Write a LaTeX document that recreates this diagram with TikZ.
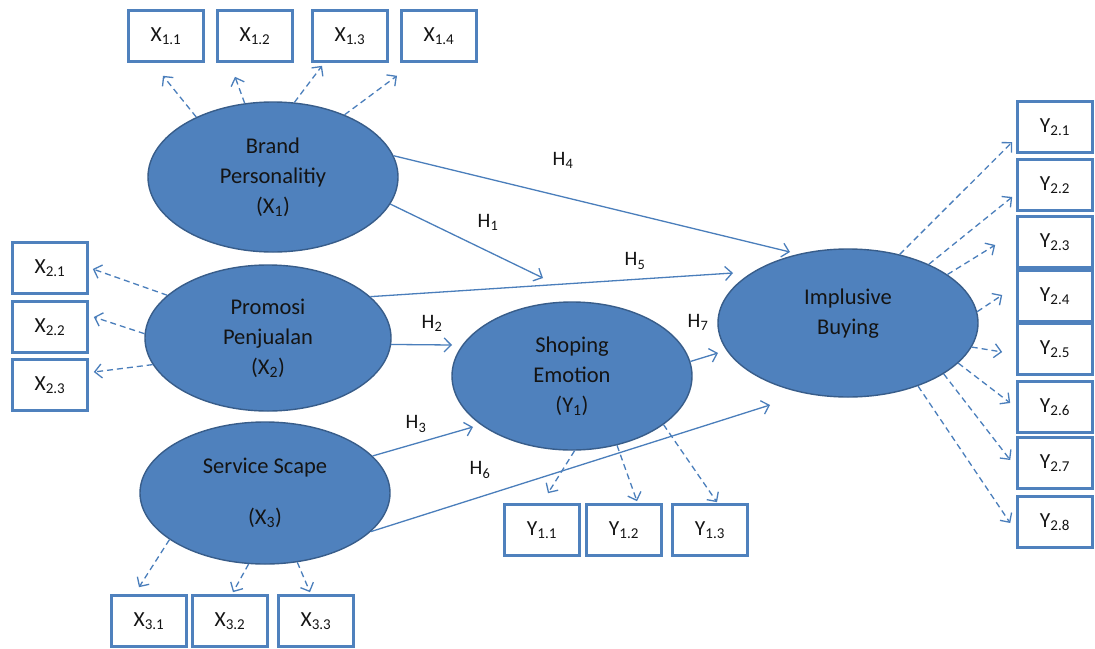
\documentclass[tikz,border=0pt]{standalone}
\usepackage{fontspec}
\setmainfont{Carlito}
\usetikzlibrary{arrows.meta,shapes.geometric,calc}
\definecolor{ellfill}{HTML}{4F81BD}
\definecolor{elldraw}{HTML}{385D8A}
\definecolor{linecol}{HTML}{4A7EBB}
\definecolor{txt}{HTML}{141414}
\begin{document}
\begin{tikzpicture}[x=1pt,y=-1pt,
  latent/.style={ellipse, draw=elldraw, fill=ellfill, line width=1.4pt, inner sep=0pt,
    align=center, text=txt, font=\fontsize{22.5}{30}\selectfont},
  indicator/.style={draw=ellfill, line width=2.6pt, fill=white, minimum width=75pt,
    minimum height=51pt, inner sep=0pt, text=txt, font=\fontsize{21.5}{24}\selectfont},
  pathline/.style={draw=linecol, line width=1.3pt, -{Straight Barb[length=7pt,width=14pt]}},
  load/.style={pathline, dash pattern=on 6pt off 4pt},
  hlab/.style={text=txt, font=\fontsize{20.5}{24}\selectfont}]
\useasboundingbox (0,0) rectangle (1095,648);
\fill[white] (0,0) rectangle (1095,648);

% latent variables
\node[latent, minimum width=250pt, minimum height=150pt] (bp) at (273,177) {Brand\\Personalitiy\\(X\textsubscript{1})};
\node[latent, minimum width=246pt, minimum height=146pt] (pp) at (268,338) {Promosi\\Penjualan\\(X\textsubscript{2})};
\node[latent, minimum width=250pt, minimum height=142pt] (ss) at (265,493) {Service Scape\\[21pt](X\textsubscript{3})};
\node[latent, minimum width=240pt, minimum height=148pt] (se) at (572,376) {Shoping\\Emotion\\(Y\textsubscript{1})};
\node[latent, minimum width=260pt, minimum height=148pt] (ib) at (848,323) {Implusive\\Buying\\[-8pt]\mbox{}};

% indicators
\node[indicator] (x11) at (166,36) {X\textsubscript{1.1}};
\node[indicator] (x12) at (255,36) {X\textsubscript{1.2}};
\node[indicator] (x13) at (350,36) {X\textsubscript{1.3}};
\node[indicator] (x14) at (439,36) {X\textsubscript{1.4}};
\node[indicator] (x21) at (50,268) {X\textsubscript{2.1}};
\node[indicator] (x22) at (50,327) {X\textsubscript{2.2}};
\node[indicator] (x23) at (50,385) {X\textsubscript{2.3}};
\node[indicator] (x31) at (149,621) {X\textsubscript{3.1}};
\node[indicator] (x32) at (230,621) {X\textsubscript{3.2}};
\node[indicator] (x33) at (316,621) {X\textsubscript{3.3}};
\node[indicator] (y11) at (542,530) {Y\textsubscript{1.1}};
\node[indicator] (y12) at (624,530) {Y\textsubscript{1.2}};
\node[indicator] (y13) at (710,530) {Y\textsubscript{1.3}};
\node[indicator] (y21) at (1055,127) {Y\textsubscript{2.1}};
\node[indicator] (y22) at (1055,185) {Y\textsubscript{2.2}};
\node[indicator] (y23) at (1055,242) {Y\textsubscript{2.3}};
\node[indicator] (y24) at (1055,296) {Y\textsubscript{2.4}};
\node[indicator] (y25) at (1055,349) {Y\textsubscript{2.5}};
\node[indicator] (y26) at (1055,407) {Y\textsubscript{2.6}};
\node[indicator] (y27) at (1055,463) {Y\textsubscript{2.7}};
\node[indicator] (y28) at (1055,522) {Y\textsubscript{2.8}};

% structural path tips
\coordinate (t4) at (790,252);
\coordinate (t1) at (543,278);
\coordinate (t5) at (733,273);
\coordinate (t2) at (452,345);
\coordinate (t3) at (473,427);
\coordinate (t6) at (770,405);
\coordinate (t7) at (718,353);

\draw[pathline] (bp.10) -- (t4);
\draw[pathline] (bp.-13) -- (t1);
\draw[pathline] (pp.22) -- (t5);
\draw[pathline] (pp.-3) -- (t2);
\draw[pathline] (ss.19) -- (t3);
\draw[pathline] (ss.-20) -- (t6);
\draw[pathline] (se.7) -- (t7);

\node[hlab] (h4) at (563,160) {H\textsubscript{4}};
\node[hlab] (h1) at (488,222) {H\textsubscript{1}};
\node[hlab] (h5) at (635,261) {H\textsubscript{5}};
\node[hlab] (h2) at (432,323) {H\textsubscript{2}};
\node[hlab] (h7) at (698,322) {H\textsubscript{7}};
\node[hlab] (h3) at (416,424) {H\textsubscript{3}};
\node[hlab] (h6) at (480,470) {H\textsubscript{6}};

% loadings
\draw[load] (bp.142) -- ($(x11.south)+(-3,13)$);
\draw[load] (bp.111) -- ($(x12.south)+(-20,14)$);
\draw[load] (bp.74) -- ($(x13.south)+(-28,3)$);
\draw[load] (bp.41.5) -- ($(x14.south)+(-42,13)$);

\draw[load] (pp.157) -- ($(x21.east)+(4,1)$);
\draw[load] (pp.178) -- ($(x22.east)+(5,-10)$);
\draw[load] (pp.193) -- ($(x23.east)+(5,-13)$);

\draw[load] (ss.206) -- ($(x31.north)+(-10,-7)$);
\draw[load] (ss.257) -- ($(x32.north)+(3,-2)$);
\draw[load] (ss.295) -- ($(x33.north)+(-6,-2)$);

\draw[load] (se.-88) -- ($(y11.north)+(6,-10)$);
\draw[load] (se.-57) -- ($(y12.north)+(13,-2)$);
\draw[load] (se.-28) -- ($(y13.north)+(7,-1)$);

\draw[load] (ib.53.4) -- ($(y21.west)+(-4,15)$);
\draw[load] (ib.36.6) -- ($(y22.west)+(-4,12)$);
\draw[load] (ib.26.8) -- ($(y23.west)+(-21,3)$);
\draw[load] (ib.5.7) -- ($(y24.west)+(-14,-1)$);
\draw[load] (ib.-11) -- ($(y25.west)+(-14,3)$);
\draw[load] (ib.-20.5) -- ($(y26.west)+(-6,-4)$);
\draw[load] (ib.-28.5) -- ($(y27.west)+(-6,-3)$);
\draw[load] (ib.-42.8) -- ($(y28.west)+(-6,1)$);
\end{tikzpicture}
\end{document}
